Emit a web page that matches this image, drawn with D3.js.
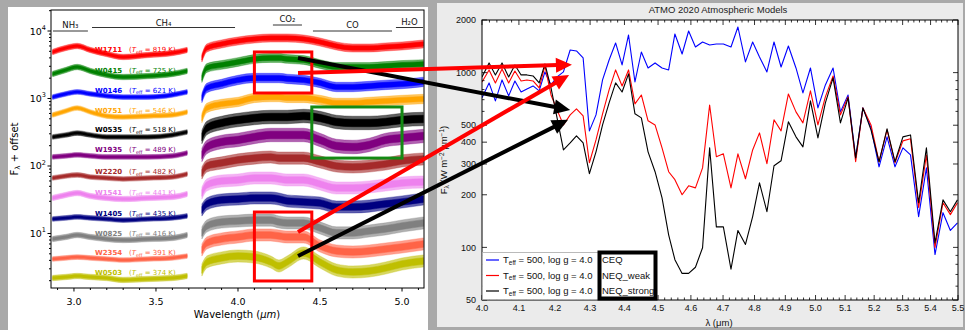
<!DOCTYPE html>
<html><head><meta charset="utf-8">
<script src="https://cdn.jsdelivr.net/npm/d3@7"></script>
<style>
html,body{margin:0;padding:0;background:#a9a9a9;}
svg{display:block;font-family:"DejaVu Sans",sans-serif;}
</style></head><body>
<svg id="chart" width="965" height="330"></svg>
<script>
// ---------- Observed Y-dwarf spectra (left panel) ----------
const objects = ["W1711","W0415","W0146","W0751","W0535","W1935","W2220","W1541","W1405","W0825","W2354","W0503"];
const teffK = [819,725,621,546,518,489,482,441,435,416,391,374];

// wavelength nodes (µm) of the short- and long-wavelength segments
const waveShort = [2.87, 2.95, 3.02, 3.10, 3.20, 3.30, 3.45, 3.60, 3.69];
const waveLong  = [3.78, 3.81, 3.90, 4.00, 4.10, 4.20, 4.25, 4.30, 4.40, 4.50, 4.60, 4.70, 4.80, 4.90, 5.00, 5.13];

// F_lambda + offset at the nodes
const fluxShort = [
  [4890, 5600, 6000, 5230, 4560, 4120, 4410, 4720, 5230],
  [2310, 2640, 2930, 2560, 2230, 2080, 2150, 2310, 2560],
  [1050, 1170, 1250, 1170, 1090, 1050, 1050, 1130, 1250],
  [570, 653, 723, 631, 550, 532, 550, 570, 631],
  [269, 288, 308, 288, 269, 269, 269, 288, 319],
  [136, 141, 146, 141, 136, 136, 136, 141, 156],
  [66.4, 71.1, 73.6, 68.7, 66.4, 64.2, 66.4, 68.7, 76.1],
  [33.6, 37.2, 39.8, 35.9, 33.6, 32.4, 33.6, 34.7, 38.5],
  [16.4, 17.0, 17.6, 17.0, 16.4, 15.8, 16.4, 17.0, 18.2],
  [8.29, 8.87, 9.50, 8.87, 8.29, 8.01, 8.29, 8.58, 9.50],
  [4.19, 4.34, 4.48, 4.34, 4.19, 4.05, 4.19, 4.34, 4.64],
  [2.19, 2.27, 2.35, 2.27, 2.19, 2.05, 2.12, 2.19, 2.35]
];
const fluxLong = [
  [3980, 5600, 6420, 7110, 7610, 7880, 7880, 7880, 7610, 6870, 6000, 5600, 5600, 5800, 6000, 6420],
  [2010, 2830, 3140, 3470, 3850, 3980, 3980, 3850, 3720, 3240, 2930, 2930, 2930, 3030, 3140, 3240],
  [1020, 1430, 1640, 1880, 2010, 2010, 2010, 1950, 1880, 1700, 1480, 1480, 1530, 1590, 1640, 1760],
  [514, 723, 829, 888, 1020, 1050, 1050, 1020, 1020, 950, 858, 858, 888, 918, 950, 983],
  [269, 366, 434, 480, 514, 532, 532, 532, 550, 514, 449, 434, 434, 449, 480, 497],
  [146, 191, 227, 243, 269, 288, 288, 288, 288, 243, 198, 191, 205, 243, 260, 278],
  [78.8, 100, 111, 123, 131, 136, 131, 131, 131, 115, 100, 96.6, 100, 107, 119, 127],
  [39.8, 52.3, 59.9, 62.0, 66.4, 66.4, 64.2, 62.0, 62.0, 54.1, 47.2, 47.2, 48.9, 52.3, 56.0, 57.9],
  [22.3, 27.4, 31.4, 32.4, 33.6, 33.6, 32.4, 30.3, 29.3, 28.3, 24.7, 24.7, 25.5, 27.4, 29.3, 32.4],
  [10.2, 12.9, 14.8, 15.3, 15.8, 15.8, 14.8, 14.3, 14.3, 12.1, 10.2, 10.2, 10.9, 11.7, 12.9, 14.3],
  [5.70, 7.23, 8.29, 8.87, 9.50, 9.50, 9.18, 8.87, 8.87, 6.53, 5.51, 5.32, 5.51, 5.89, 6.31, 6.99],
  [2.88, 3.78, 4.34, 4.64, 4.48, 3.78, 3.30, 3.78, 5.14, 3.78, 2.88, 2.69, 2.78, 3.08, 3.53, 3.91]
];
// noise envelope half-width (dex)
const scatterShort = [0.04, 0.04, 0.035, 0.035, 0.035, 0.035, 0.035, 0.04, 0.035, 0.04, 0.035, 0.04];
const scatterLong  = [0.06, 0.065, 0.07, 0.07, 0.10, 0.10, 0.09, 0.09, 0.09, 0.09, 0.09, 0.09];

// molecular band annotations (µm)
const bandNames = ["NH₃", "CH₄", "CO₂", "CO", "H₂O"];
const bandLo = [2.872, 3.110, 4.213, 4.457, 4.963];
const bandHi = [3.085, 3.982, 4.390, 4.939, 5.128];

// highlighted regions: [λmin, λmax, Fmin, Fmax]
const boxCO2hot  = [4.10, 4.45, 1206, 4890];
const boxCO      = [4.45, 5.00, 131, 749];
const boxCO2cold = [4.10, 4.45, 1.98, 20.8];

// ---------- ATMO 2020 model spectra (right panel) ----------
const modelWave = [4.000,4.019,4.036,4.054,4.072,4.089,4.106,4.122,4.139,4.156,4.172,4.189,4.206,4.224,4.243,4.261,4.280,4.298,4.317,4.336,4.355,4.374,4.393,4.412,4.431,4.450,4.470,4.491,4.512,4.532,4.551,4.573,4.593,4.614,4.636,4.658,4.679,4.701,4.725,4.747,4.771,4.794,4.816,4.840,4.863,4.886,4.910,4.935,4.958,4.983,5.008,5.033,5.059,5.084,5.110,5.136,5.161,5.189,5.217,5.245,5.273,5.301,5.328,5.357,5.385,5.416,5.445,5.472,5.498];
const fluxCEQ = [717,873,689,908,736,896,775,807,839,786,1009,850,945,1009,1347,1330,1213,464,573,908,1181,1478,1106,1642,884,1312,1063,1136,1063,1036,1664,1278,1730,1402,1497,1439,1458,1458,1402,1824,1151,1497,1229,1009,1497,1077,1420,1063,765,1063,628,850,1063,596,745,325,628,483,289,429,289,371,338,150,285,91,158,125,138];
const fluxNEQweak = [884,1036,873,1050,873,1022,896,908,896,817,1092,745,612,502,573,620,566,305,412,581,796,1036,839,1036,662,745,530,502,371,271,244,200,225,219,285,653,330,343,219,343,247,361,452,301,537,464,755,596,516,786,502,726,957,573,726,309,628,502,309,470,305,407,418,169,338,100,180,154,180];
const fluxNEQstrong = [945,1136,970,1136,945,1106,970,970,957,873,1121,817,551,361,396,435,396,264,352,502,671,873,775,983,581,551,352,271,192,118,85,71,71,77,99.6,371,131,131,75,125,104,150,234,160,293,313,523,429,376,689,423,671,932,516,717,325,628,470,309,477,309,429,440,180,371,106,187,160,187];
const modelNames = ["CEQ", "NEQ_weak", "NEQ_strong"];
const modelTeff = 500, modelLogg = 4.0;

// arrows linking the two panels: source (λ, F) in the observed panel, target (λ, F) in the model panel
const arrowFrom = [[4.366, 3980], [4.366, 2390], [4.366, 4.64], [4.366, 10.5]];
const arrowTo   = [[4.243, 612], [4.248, 1110], [4.237, 537], [4.240, 970]];

// ---------- drawing ----------
const objColors = ["#ff0000","#008000","#0000ff","#ffa500","#000000","#800080","#a52a2a","#ee82ee","#000080","#808080","#ff6347","#bfbf00"];
const modelColors = ["#0000ff","#ff0000","#000000"];
const arrowColors = ["#000000","#ff0000","#000000","#ff0000"];
const sansR = "'Liberation Sans', Arial, sans-serif";

const svg = d3.select("#chart");
svg.append("rect").attr("width",965).attr("height",330).attr("fill","#a9a9a9");
svg.append("rect").attr("x",8).attr("y",7).attr("width",420).attr("height",323).attr("fill","#ffffff");
svg.append("rect").attr("x",437).attr("y",3).attr("width",526).attr("height",324).attr("fill","#ebebeb");

// ===== left panel =====
const xL = d3.scaleLinear().domain([2.86, 5.134]).range([51, 424]);
const yL = d3.scaleLog().domain([1.558, 20470]).range([288, 10]);
const left = svg.append("g");
left.append("clipPath").attr("id","clipL").append("rect")
  .attr("x",51).attr("y",10).attr("width",373).attr("height",278);
const spec = left.append("g").attr("clip-path","url(#clipL)");

// each spectrum: a lighter outer envelope for the noise spikes and a solid core
objects.forEach((name,i)=>{
  [[waveShort, fluxShort[i], scatterShort[i]], [waveLong, fluxLong[i], scatterLong[i]]].forEach(([w,f,s])=>{
    [[s, 0.62], [s*0.55, 1]].forEach(([sd, op])=>{
      const k = Math.pow(10, sd);
      const band = d3.area().curve(d3.curveMonotoneX)
        .x((d,j)=>xL(w[j])).y0(d=>yL(d/k)).y1(d=>yL(d*k));
      spec.append("path").datum(f).attr("d", band)
        .attr("fill", objColors[i]).attr("fill-opacity", op)
        .attr("stroke", objColors[i]).attr("stroke-opacity", op).attr("stroke-width", 0.5);
    });
  });
});

// object labels
const lab = left.append("g").attr("font-size", 7);
objects.forEach((name,i)=>{
  const y = yL(fluxShort[i][5]) - 4.5;
  lab.append("text").attr("x", xL(3.128)).attr("y", y).attr("fill", objColors[i])
    .attr("font-weight","bold").text(name);
  const t = lab.append("text").attr("x", xL(3.335)).attr("y", y).attr("fill", objColors[i]);
  t.append("tspan").text("(");
  t.append("tspan").attr("font-style","italic").text("T");
  t.append("tspan").attr("font-size",5).attr("dy",1.5).text("eff");
  t.append("tspan").attr("dy",-1.5).text(` = ${teffK[i]} K)`);
});

// molecular band markers
const bandLineY = [31, 27.5, 25, 31, 27.5];
const bandTextY = [28, 25.5, 22, 28, 25];
bandNames.forEach((n,i)=>{
  left.append("line").attr("x1", xL(bandLo[i])).attr("x2", xL(bandHi[i]))
    .attr("y1", bandLineY[i]).attr("y2", bandLineY[i]).attr("stroke","#333").attr("stroke-width",1);
  left.append("text").attr("x", (xL(bandLo[i])+xL(bandHi[i]))/2).attr("y", bandTextY[i])
    .attr("text-anchor","middle").attr("font-size",8.5).attr("fill","#111").text(n);
});

// highlight boxes
[[boxCO2hot,"#ff0000"],[boxCO,"#138a13"],[boxCO2cold,"#ff0000"]].forEach(([b,c])=>{
  left.append("rect").attr("x", xL(b[0])).attr("y", yL(b[3]))
    .attr("width", xL(b[1])-xL(b[0])).attr("height", yL(b[2])-yL(b[3]))
    .attr("fill","none").attr("stroke", c).attr("stroke-width", 3);
});

// frame and axes
left.append("rect").attr("x",51).attr("y",10).attr("width",373).attr("height",278)
  .attr("fill","none").attr("stroke","#000").attr("stroke-width",1);
const xMajL = [3.0, 3.5, 4.0, 4.5, 5.0];
const xMinL = d3.range(29, 52).map(v=>v/10).filter(v=>!xMajL.some(m=>Math.abs(m-v)<1e-6));
xMajL.forEach(v=>{
  left.append("line").attr("x1",xL(v)).attr("x2",xL(v)).attr("y1",288).attr("y2",291.5).attr("stroke","#000");
  left.append("text").attr("x",xL(v)).attr("y",304.5).attr("text-anchor","middle").attr("font-size",9.5).text(v.toFixed(1));
});
xMinL.forEach(v=>{
  left.append("line").attr("x1",xL(v)).attr("x2",xL(v)).attr("y1",288).attr("y2",290).attr("stroke","#000");
});
const yMajL = [1, 2, 3, 4];
yMajL.forEach(e=>{
  const y = yL(Math.pow(10,e));
  left.append("line").attr("x1",47.5).attr("x2",51).attr("y1",y).attr("y2",y).attr("stroke","#000");
  const t = left.append("text").attr("x",46).attr("y",y+3.5).attr("text-anchor","end").attr("font-size",9.5);
  t.append("tspan").text("10");
  t.append("tspan").attr("font-size",6.5).attr("dy",-4.5).text(e);
});
for (let e=0; e<=4; e++) for (let m=2; m<=9; m++) {
  const v = m*Math.pow(10,e);
  if (v < 1.558 || v > 20470) continue;
  const y = yL(v);
  left.append("line").attr("x1",49).attr("x2",51).attr("y1",y).attr("y2",y).attr("stroke","#000");
}
const xt = left.append("text").attr("x",237).attr("y",318).attr("text-anchor","middle").attr("font-size",10);
xt.append("tspan").text("Wavelength (");
xt.append("tspan").attr("font-style","italic").text("μm");
xt.append("tspan").text(")");
const yt = left.append("text").attr("transform","translate(18,149) rotate(-90)").attr("text-anchor","middle").attr("font-size",10);
yt.append("tspan").text("F");
yt.append("tspan").attr("font-size",7).attr("dy",2).text("λ");
yt.append("tspan").attr("dy",-2).text(" + offset");

// ===== right panel =====
const xR = d3.scaleLog().domain([4, 5.5]).range([482, 958]);
const yR = d3.scaleLog().domain([50, 2000]).range([300, 20]);
const right = svg.append("g").style("font-family", sansR);
right.append("rect").attr("x",482).attr("y",20).attr("width",476).attr("height",280).attr("fill","#fff");
right.append("clipPath").attr("id","clipR").append("rect").attr("x",482).attr("y",20).attr("width",476).attr("height",280);
const lines = right.append("g").attr("clip-path","url(#clipR)");
[fluxCEQ, fluxNEQweak, fluxNEQstrong].forEach((f,i)=>{
  const ln = d3.line().x((d,j)=>xR(modelWave[j])).y(d=>yR(d));
  lines.append("path").datum(f).attr("d", ln).attr("fill","none")
    .attr("stroke", modelColors[i]).attr("stroke-width",1.1).attr("stroke-linejoin","round");
});
right.append("rect").attr("x",482).attr("y",20).attr("width",476).attr("height",280)
  .attr("fill","none").attr("stroke","#000").attr("stroke-width",1);

const xMajR = d3.range(0,16).map(i=>4+i*0.1);
const xMinR = d3.range(0,76).map(i=>4+i*0.02).filter(v=>!xMajR.some(m=>Math.abs(m-v)<1e-6));
const tk = right.append("g").attr("stroke","#000").attr("stroke-width",0.8);
xMajR.forEach(v=>{
  const x = xR(v);
  tk.append("line").attr("x1",x).attr("x2",x).attr("y1",300).attr("y2",295);
  tk.append("line").attr("x1",x).attr("x2",x).attr("y1",20).attr("y2",25);
  right.append("text").attr("x",x).attr("y",310.5).attr("text-anchor","middle").attr("font-size",9).attr("fill","#111").text(v.toFixed(1));
});
xMinR.forEach(v=>{
  const x = xR(v);
  tk.append("line").attr("x1",x).attr("x2",x).attr("y1",300).attr("y2",297.5);
  tk.append("line").attr("x1",x).attr("x2",x).attr("y1",20).attr("y2",22.5);
});
const yMajR = [50, 100, 200, 300, 400, 500, 1000, 2000];
const yMinR = [60, 70, 80, 90, 600, 700, 800, 900];
yMajR.forEach(v=>{
  const y = yR(v);
  tk.append("line").attr("x1",482).attr("x2",487).attr("y1",y).attr("y2",y);
  tk.append("line").attr("x1",958).attr("x2",953).attr("y1",y).attr("y2",y);
  right.append("text").attr("x",476).attr("y",y+3.2).attr("text-anchor","end").attr("font-size",9).attr("fill","#111").text(v);
});
yMinR.forEach(v=>{
  const y = yR(v);
  tk.append("line").attr("x1",482).attr("x2",484.5).attr("y1",y).attr("y2",y);
  tk.append("line").attr("x1",958).attr("x2",955.5).attr("y1",y).attr("y2",y);
});
right.append("text").attr("x",718).attr("y",12.5).attr("text-anchor","middle").attr("font-size",9.5).attr("fill","#222")
  .text("ATMO 2020 Atmospheric Models");
right.append("text").attr("x",719).attr("y",326).attr("text-anchor","middle").attr("font-size",9.5).attr("fill","#111")
  .text("λ (μm)");
const ytr = right.append("text").attr("transform","translate(447,160) rotate(-90)").attr("text-anchor","middle").attr("font-size",9.5).attr("fill","#111");
ytr.append("tspan").text("F");
ytr.append("tspan").attr("font-size",6.5).attr("dy",2).text("λ");
ytr.append("tspan").attr("dy",-2).text(" (W m");
ytr.append("tspan").attr("font-size",6.5).attr("dy",-3.5).text("−2");
ytr.append("tspan").attr("dy",3.5).text(" μm");
ytr.append("tspan").attr("font-size",6.5).attr("dy",-3.5).text("−1");
ytr.append("tspan").attr("dy",3.5).text(")");

// legend
const lg = right.append("g");
lg.append("rect").attr("x",482.5).attr("y",252.5).attr("width",172).attr("height",47)
  .attr("fill","#fff").attr("stroke","#aaa").attr("stroke-width",0.8);
modelNames.forEach((n,i)=>{
  const y = 260 + i*15.5;
  lg.append("line").attr("x1",486).attr("x2",499).attr("y1",y).attr("y2",y).attr("stroke",modelColors[i]).attr("stroke-width",1.2);
  const t = lg.append("text").attr("x",503).attr("y",y+3.3).attr("font-size",9.5).attr("fill","#111");
  t.append("tspan").text("T");
  t.append("tspan").attr("font-size",6.5).attr("dy",1.5).text("eff");
  t.append("tspan").attr("dy",-1.5).text(` = ${modelTeff}, log g = ${modelLogg.toFixed(1)}`);
  lg.append("text").attr("x",602).attr("y",y+3.3).attr("font-size",9.5).attr("fill","#111").text(n);
});
lg.append("rect").attr("x",599.5).attr("y",252.5).attr("width",56).attr("height",46)
  .attr("fill","none").attr("stroke","#000").attr("stroke-width",4);

// ===== arrows across panels =====
const arr = svg.append("g");
arrowFrom.forEach((f,i)=>{
  const p0 = [xL(f[0]), yL(f[1])];
  const p1 = [xR(arrowTo[i][0]), yR(arrowTo[i][1])];
  const dx = p1[0]-p0[0], dy = p1[1]-p0[1], L = Math.hypot(dx,dy);
  const ux = dx/L, uy = dy/L, nx = -uy, ny = ux;
  const hl = 16, hw = 7.5;
  const b = [p1[0]-ux*hl, p1[1]-uy*hl];
  arr.append("line").attr("x1",p0[0]).attr("y1",p0[1]).attr("x2",b[0]+ux*2).attr("y2",b[1]+uy*2)
    .attr("stroke",arrowColors[i]).attr("stroke-width",4);
  arr.append("polygon").attr("points",[p1, [b[0]+nx*hw, b[1]+ny*hw], [b[0]-nx*hw, b[1]-ny*hw]].map(p=>p.join(",")).join(" "))
    .attr("fill",arrowColors[i]);
});
</script>
</body></html>
